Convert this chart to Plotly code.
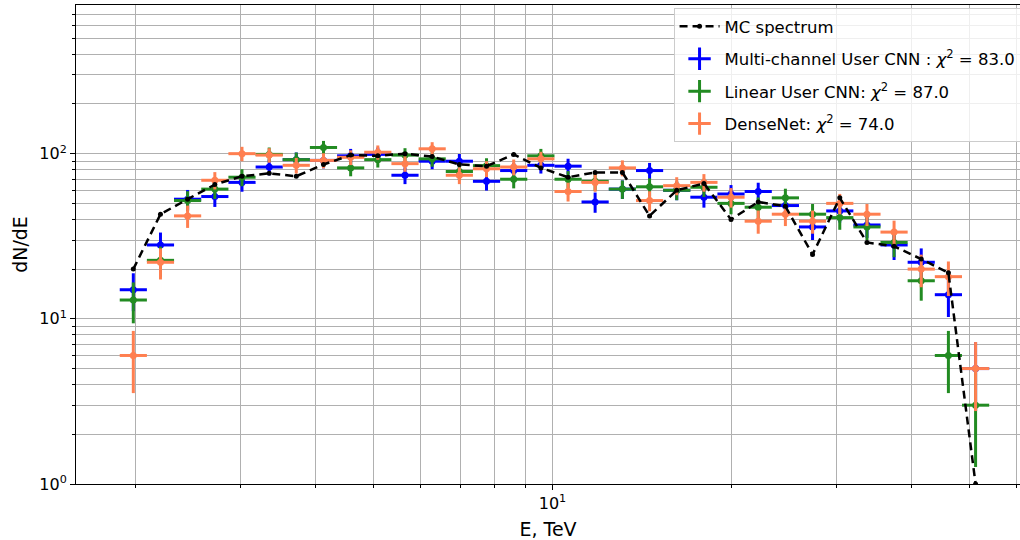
import numpy as np
import plotly.graph_objects as go

# Bin centres, E [TeV]
energy = [1.980, 2.199, 2.442, 2.713, 3.013, 3.347, 3.716, 4.128, 4.585, 5.092,
          5.656, 6.282, 6.978, 7.750, 8.608, 9.561, 10.62, 11.79, 13.10, 14.55,
          16.16, 17.95, 19.93, 22.14, 24.59, 27.31, 30.34, 33.70, 37.42, 41.56,
          46.16, 51.27]

mc_spectrum = [20, 43, 53, 65, 73, 76, 73, 86, 98, 97,
               100, 96, 86, 84, 99, 82, 72, 77, 77, 42,
               60, 66, 40, 51, 48, 24.5, 54, 29, 27.5, 23,
               19, 1]

multi_channel_cnn = [15, 28, 53, 55, 67, 83, 92, 91, 97, 99,
                     74, 90, 90, 68, 79, 85, 84, 51, 61, 79,
                     60, 54.5, 57, 59, 48.5, 36, 45, 37, 28, 22,
                     14, 5]

linear_cnn = [13, 22.6, 52, 61, 72, 99, 92, 109, 82, 92,
              98, 93, 78, 84.6, 70, 97, 70, 68, 61, 63,
              60, 62.6, 50, 47.4, 54, 43, 41, 36, 29, 17,
              6, 3]

densenet = [6, 22, 42, 69, 100, 98, 85, 91, 95, 102,
            87, 107, 74, 81, 83, 93, 59, 67, 82, 52,
            64, 67, 54.5, 39, 43, 39, 50, 43, 33.5, 20,
            18, 5]

series_names = ["Multi-channel User CNN : <i>χ</i><sup>2</sup> = 83.0",
                "Linear User CNN: <i>χ</i><sup>2</sup> = 87.0",
                "DenseNet: <i>χ</i><sup>2</sup> = 74.0"]

x_tickvals = [10]
x_ticktext = ["10<sup>1</sup>"]
x_minor_vals = [2, 3, 4, 5, 6, 7, 8, 9, 20, 30, 40, 50, 60]
y_tickvals = [1, 10, 100]
y_ticktext = ["10<sup>0</sup>", "10<sup>1</sup>", "10<sup>2</sup>"]
y_minor_vals = [2, 3, 4, 5, 6, 7, 8, 9, 20, 30, 40, 50, 60, 70, 80, 90,
                200, 300, 400, 500, 600, 700]

colors = ["#0000ff", "#228b22", "#ff7f50"]

E = np.array(energy)
half_log_bin = 0.0228
ex_minus = E * (1 - 10 ** (-half_log_bin))
ex_plus = E * (10 ** half_log_bin - 1)

fig = go.Figure()

# legend entries
fig.add_trace(go.Scatter(
    x=[None], y=[None], mode="lines+markers", name="MC spectrum",
    line=dict(color="black", width=2.5, dash="8px,5px"),
    marker=dict(color="black", size=5), legendgroup="mc"))
for name, col, grp in zip(series_names, colors, ["a", "b", "c"]):
    fig.add_trace(go.Scatter(
        x=[None], y=[None], mode="markers", name=name, legendgroup=grp,
        marker=dict(symbol="cross-thin", size=16, color=col,
                    line=dict(width=3, color=col))))

# data with error bars
for vals, col in zip([multi_channel_cnn, linear_cnn, densenet], colors):
    v = np.array(vals, dtype=float)
    fig.add_trace(go.Scatter(
        x=energy, y=vals, mode="markers", showlegend=False,
        marker=dict(color=col, size=7),
        error_x=dict(type="data", symmetric=False, array=ex_plus,
                     arrayminus=ex_minus, color=col, thickness=3, width=0),
        error_y=dict(type="data", array=np.sqrt(v), color=col,
                     thickness=3, width=0)))

fig.add_trace(go.Scatter(
    x=energy, y=mc_spectrum, mode="lines+markers", showlegend=False,
    line=dict(color="black", width=2.5, dash="8px,5px"),
    marker=dict(color="black", size=5)))

axis_common = dict(
    type="log", showgrid=True, gridcolor="#b0b0b0", gridwidth=1,
    showline=True, linecolor="black", linewidth=1, zeroline=False,
    ticks="outside", ticklen=5, tickcolor="black", tickmode="array",
)

fig.update_layout(
    width=1020, height=540,
    margin=dict(l=76, r=0, t=5, b=56, autoexpand=False),
    paper_bgcolor="white", plot_bgcolor="white",
    font=dict(family="DejaVu Sans", size=16, color="black"),
    legend=dict(x=0.633, y=0.9937, xanchor="left", yanchor="top",
                bgcolor="rgba(255,255,255,0.8)", bordercolor="#cccccc",
                borderwidth=1, traceorder="grouped", tracegroupgap=8,
                itemwidth=40, font=dict(size=16.5)),
    xaxis=dict(axis_common, range=[0.2005, 1.7844], mirror=True,
               tickvals=x_tickvals, ticktext=x_ticktext,
               minor=dict(tickmode="array", tickvals=x_minor_vals,
                          showgrid=True, gridcolor="#b0b0b0", gridwidth=1,
                          ticks="outside", ticklen=3, tickcolor="black"),
               title=dict(text="E, TeV", standoff=11)),
    yaxis=dict(axis_common, range=[0, 2.9], mirror=False,
               tickvals=y_tickvals, ticktext=y_ticktext,
               minor=dict(tickmode="array", tickvals=y_minor_vals,
                          showgrid=True, gridcolor="#b0b0b0", gridwidth=1,
                          ticks="outside", ticklen=3, tickcolor="black"),
               title=dict(text="dN/dE", standoff=6)),
)

fig.write_html("out.html")
